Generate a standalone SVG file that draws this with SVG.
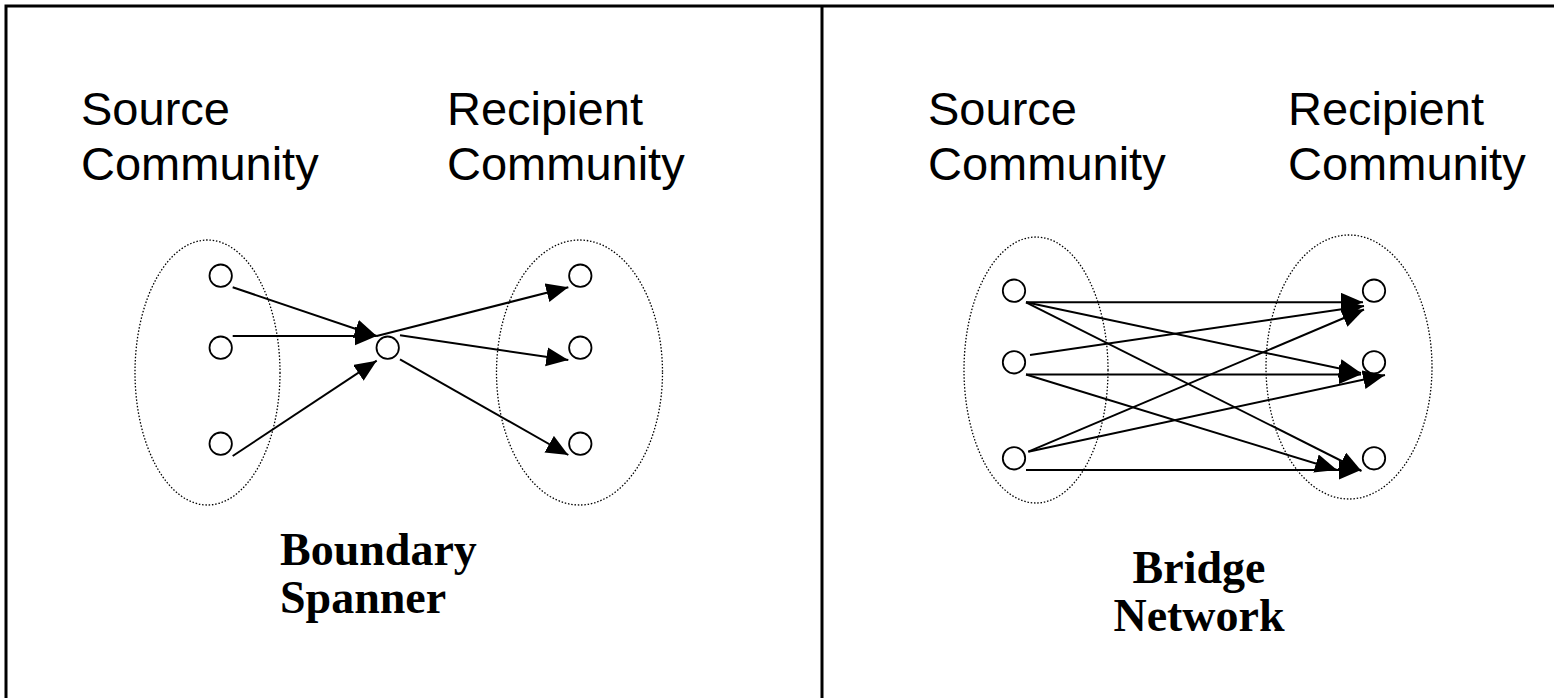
<svg xmlns="http://www.w3.org/2000/svg" width="1554" height="698" viewBox="0 0 1554 698">
<style>
.frame{stroke:#000;stroke-width:3;fill:none}
.lbl{font-family:"Liberation Sans",Arial,sans-serif;font-size:47px;fill:#000}
.ttl{font-family:"Liberation Serif","Times New Roman",serif;font-size:46px;font-weight:bold;fill:#000}
.grp{fill:none;stroke:#000;stroke-width:1.3;stroke-dasharray:1.5 1.8}
.nd{fill:#fff;stroke:#000;stroke-width:1.8}
.e{stroke:#000;stroke-width:2;fill:none;marker-end:url(#ah)}
</style>
<defs>
<marker id="ah" markerUnits="userSpaceOnUse" markerWidth="24" markerHeight="21" refX="22" refY="9.5" orient="auto">
<path d="M0,0 L22,9.5 L0,19 z" fill="#000"/>
</marker>
</defs>
<rect width="1554" height="698" fill="#fff"/>
<g id="frame">
<path class="frame" d="M6,698 V6 H1554 M822,6 V698"/>
</g>
<g id="labels-left">
<text class="lbl" x="81" y="125">Source</text>
<text class="lbl" x="81" y="180">Community</text>
<text class="lbl" x="447" y="125">Recipient</text>
<text class="lbl" x="447" y="180">Community</text>
<text class="ttl" x="280" y="565">Boundary</text>
<text class="ttl" x="280" y="613">Spanner</text>
</g>
<g id="labels-right">
<text class="lbl" x="928" y="125">Source</text>
<text class="lbl" x="928" y="180">Community</text>
<text class="lbl" x="1288" y="125">Recipient</text>
<text class="lbl" x="1288" y="180">Community</text>
<text class="ttl" x="1199" y="583" text-anchor="middle">Bridge</text>
<text class="ttl" x="1199" y="631" text-anchor="middle">Network</text>
</g>
<g id="groups">
<ellipse class="grp" cx="207.5" cy="372.5" rx="72.5" ry="132.5"/>
<ellipse class="grp" cx="579.5" cy="372.5" rx="83" ry="132.5"/>
<ellipse class="grp" cx="1036" cy="370" rx="72" ry="133"/>
<ellipse class="grp" cx="1349" cy="367" rx="83" ry="132"/>
</g>
<g id="connectors">
<line class="e" x1="232.7" y1="287.3" x2="376.7" y2="336"/>
<line class="e" x1="232.7" y1="336" x2="376.7" y2="336"/>
<line class="e" x1="232.7" y1="456" x2="376.7" y2="360.7"/>
<line class="e" x1="376.7" y1="336" x2="568.3" y2="287.3"/>
<line class="e" x1="400" y1="335.3" x2="568.3" y2="360"/>
<line class="e" x1="400" y1="359.3" x2="568.3" y2="455"/>
<line class="e" x1="1026" y1="302.3" x2="1363" y2="302.3"/>
<line class="e" x1="1026" y1="302.3" x2="1361" y2="373"/>
<line class="e" x1="1026" y1="302.3" x2="1361.5" y2="471"/>
<line class="e" x1="1030" y1="355" x2="1364" y2="306"/>
<line class="e" x1="1026" y1="374.5" x2="1361" y2="374.5"/>
<line class="e" x1="1026" y1="374.5" x2="1337" y2="470"/>
<line class="e" x1="1028.3" y1="451.7" x2="1364" y2="309.5"/>
<line class="e" x1="1028.3" y1="451.7" x2="1385" y2="375"/>
<line class="e" x1="1026" y1="470" x2="1361" y2="470"/>
</g>
<g id="nodes-left">
<circle class="nd" cx="220.7" cy="275.7" r="11.2"/>
<circle class="nd" cx="220.7" cy="347.7" r="11.2"/>
<circle class="nd" cx="220.7" cy="443.7" r="11.2"/>
<circle class="nd" cx="387.7" cy="347.7" r="11.2"/>
<circle class="nd" cx="580.3" cy="275.7" r="11.2"/>
<circle class="nd" cx="580.3" cy="347.7" r="11.2"/>
<circle class="nd" cx="580.3" cy="443.7" r="11.2"/>
</g>
<g id="nodes-right">
<circle class="nd" cx="1014" cy="290.7" r="11.2"/>
<circle class="nd" cx="1014" cy="362.3" r="11.2"/>
<circle class="nd" cx="1014" cy="458.3" r="11.2"/>
<circle class="nd" cx="1374" cy="290.7" r="11.2"/>
<circle class="nd" cx="1374" cy="362.3" r="11.2"/>
<circle class="nd" cx="1374" cy="458.3" r="11.2"/>
</g>
</svg>
